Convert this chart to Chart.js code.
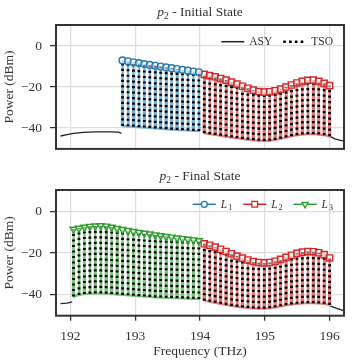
<!DOCTYPE html>
<html>
<head>
<meta charset="utf-8">
<script src="https://cdn.jsdelivr.net/npm/chart.js@4.4.1/dist/chart.umd.min.js"></script>
<style>
  body { margin: 0; background: #fff; }
  canvas { display: block; }
</style>
</head>
<body>
<canvas id="initialChart" width="362" height="165"></canvas>
<canvas id="finalChart" width="362" height="195"></canvas>
<script>
// channel centre frequencies (THz)
const freqL3 = [192.050, 192.134, 192.218, 192.302, 192.386, 192.470, 192.554, 192.638,
                192.722, 192.806, 192.890, 192.974, 193.058, 193.142, 193.226, 193.310,
                193.394, 193.478, 193.562, 193.646, 193.730, 193.814, 193.898, 193.982];
const freqL1 = [192.806, 192.890, 192.974, 193.058, 193.142, 193.226, 193.310, 193.394,
                193.478, 193.562, 193.646, 193.730, 193.814, 193.898, 193.982];
const freqL2 = [194.066, 194.150, 194.234, 194.318, 194.402, 194.486, 194.570, 194.654,
                194.738, 194.822, 194.906, 194.990, 195.074, 195.158, 195.242, 195.326,
                195.410, 195.494, 195.578, 195.662, 195.746, 195.830, 195.914, 195.998];

// p2 - initial state (dBm)
const initL1Peak = [-7.0, -7.4, -7.9, -8.3, -8.8, -9.2, -9.6, -10.0, -10.4, -10.8, -11.2, -11.6, -12.0, -12.4, -12.8];
const initL1Low  = [-39.0, -39.2, -39.4, -39.6, -39.8, -40.0, -40.2, -40.4, -40.6, -40.8, -41.0, -41.1, -41.2, -41.4, -41.5];
const initL2Peak = [-13.8, -14.4, -15.0, -15.8, -16.6, -17.6, -18.6, -19.6, -20.6, -21.5, -22.2, -22.5,
                    -22.3, -21.8, -21.0, -20.0, -19.0, -18.0, -17.2, -16.7, -16.6, -17.2, -18.2, -19.3];
const initL2Low  = [-42.5, -43.0, -43.4, -43.8, -44.2, -44.6, -45.0, -45.4, -45.7, -46.0, -46.2, -46.3,
                    -46.2, -45.8, -45.2, -44.6, -44.0, -43.5, -43.2, -43.0, -43.0, -43.2, -43.5, -44.0];
const initEdgeFreqL = [191.85, 191.95, 192.05, 192.2, 192.4, 192.6, 192.74, 192.79];
const initEdgeL     = [-43.9, -43.2, -42.6, -42.1, -41.9, -41.9, -42.0, -42.6];
const initEdgeFreqR = [196.01, 196.08, 196.15, 196.25];
const initEdgeR     = [-44.2, -45.3, -45.9, -46.6];

// p2 - final state (dBm)
const finL3Peak = [-8.6, -8.1, -7.6, -7.2, -7.0, -6.9, -7.1, -7.6, -8.2, -8.7, -9.2, -9.7,
                   -10.1, -10.5, -10.9, -11.3, -11.7, -12.1, -12.4, -12.8, -13.1, -13.4, -13.7, -14.1];
const finL3Low  = [-41.0, -40.2, -39.8, -39.6, -39.5, -39.5, -39.6, -39.8, -40.0, -40.2, -40.4, -40.6,
                   -40.8, -41.0, -41.2, -41.4, -41.5, -41.6, -41.7, -41.8, -41.9, -42.0, -42.1, -42.2];
const finL2Peak = [-15.6, -16.3, -17.2, -18.2, -19.3, -20.4, -21.5, -22.5, -23.4, -24.1, -24.6, -24.8,
                   -24.6, -24.0, -23.1, -22.1, -21.1, -20.2, -19.6, -19.3, -19.4, -19.9, -20.8, -22.4];
const finL2Low  = [-43.0, -43.5, -44.0, -44.5, -45.0, -45.5, -45.9, -46.2, -46.5, -46.7, -46.8, -46.8,
                   -46.6, -46.2, -45.7, -45.2, -44.8, -44.5, -44.3, -44.2, -44.2, -44.3, -44.5, -45.0];
const finEdgeFreqL = [191.85, 191.95, 192.03];
const finEdgeL     = [-44.4, -44.1, -43.6];
const finEdgeFreqR = [196.01, 196.10, 196.18, 196.25];
const finEdgeR     = [-45.6, -46.6, -47.4, -48.2];

const xTicks = [192, 193, 194, 195, 196];
const yTicks = [-40, -20, 0];

const FONT = '"Liberation Serif", "Times New Roman", serif';
const TEXT = '#333';
const HALF = 0.011; // half width of a channel spike (THz)

const BLUE = { line: '#79afd4', mark: '#1f77b4' };
const RED = { line: '#e67a7a', mark: '#d62728' };
const GREEN = { line: '#7cc47c', mark: '#2ca02c' };

function spikes(freqs, peaks, lows) {
    const pts = [];
    freqs.forEach((f, i) => {
        pts.push({ x: f - HALF, y: lows[i] }, { x: f, y: peaks[i] }, { x: f + HALF, y: lows[i] });
    });
    return pts;
}

// one dotted stroke per channel, broken between channels
function strokes(freqs, peaks, lows) {
    const pts = [];
    freqs.forEach((f, i) => {
        pts.push({ x: f, y: lows[i] }, { x: f, y: peaks[i] }, { x: f, y: null });
    });
    return pts;
}

function pairs(xs, ys) {
    return xs.map((x, i) => ({ x: x, y: ys[i] }));
}

function colourSet(freqs, peaks, lows, c) {
    return {
        data: spikes(freqs, peaks, lows),
        borderColor: c.line,
        borderWidth: 2.1,
        pointRadius: 0,
        order: 2
    };
}

function markerSet(freqs, peaks, c, style, radius, rotation) {
    return {
        data: pairs(freqs, peaks),
        showLine: false,
        pointStyle: style,
        pointRadius: radius,
        pointRotation: rotation || 0,
        pointBorderColor: c.mark,
        pointBackgroundColor: 'rgba(255,255,255,0.45)',
        pointBorderWidth: 1.4,
        order: 0
    };
}

function tsoSet(data) {
    return {
        data: data,
        spanGaps: false,
        borderColor: '#000',
        borderWidth: 2.8,
        borderDash: [2.2, 3.3],
        pointRadius: 0,
        order: 1
    };
}

function edgeSet(xs, ys) {
    return {
        data: pairs(xs, ys),
        borderColor: '#222',
        borderWidth: 1.3,
        pointRadius: 0,
        order: 3
    };
}

function minusLabel(v) {
    return v < 0 ? '\u2212' + Math.abs(v) : String(v);
}

function drawTitle(ctx, area, y, rest) {
    ctx.save();
    ctx.fillStyle = TEXT;
    ctx.textBaseline = 'alphabetic';
    ctx.textAlign = 'left';
    const fIt = 'italic 13.5px ' + FONT, fSub = '9.5px ' + FONT, fReg = '13.5px ' + FONT;
    ctx.font = fIt; const w1 = ctx.measureText('p').width;
    ctx.font = fSub; const w2 = ctx.measureText('2').width;
    ctx.font = fReg; const w3 = ctx.measureText(rest).width;
    let x = (area.left + area.right) / 2 - (w1 + w2 + w3) / 2;
    ctx.font = fIt; ctx.fillText('p', x, y); x += w1;
    ctx.font = fSub; ctx.fillText('2', x, y + 2.5); x += w2;
    ctx.font = fReg; ctx.fillText(rest, x, y);
    ctx.restore();
}

function drawSample(ctx, item, x0, x1, y) {
    ctx.save();
    if (item.kind === 'solid') {
        ctx.strokeStyle = '#222';
        ctx.lineWidth = 1.5;
    } else if (item.kind === 'dots') {
        ctx.strokeStyle = '#000';
        ctx.lineWidth = 2.6;
        ctx.setLineDash([2.6, 3.2]);
    } else {
        ctx.strokeStyle = item.c.mark;
        ctx.lineWidth = 1.5;
    }
    ctx.beginPath();
    ctx.moveTo(x0, y);
    ctx.lineTo(x1, y);
    ctx.stroke();
    if (item.kind === 'marker') {
        ctx.setLineDash([]);
        ctx.fillStyle = '#fff';
        ctx.strokeStyle = item.c.mark;
        ctx.lineWidth = 1.3;
        Chart.helpers.drawPoint(ctx, { pointStyle: item.style, radius: item.r, rotation: item.rot || 0, borderWidth: 1.3 }, (x0 + x1) / 2, y);
    }
    ctx.restore();
}

function drawLegend(ctx, area, dy, items) {
    const sample = 23, gapText = 5, gapItem = 11;
    const fMain = (items[0].sub ? 'italic ' : '') + '11.5px ' + FONT;
    const fSub = '8px ' + FONT;
    ctx.save();
    const widths = items.map(it => {
        ctx.font = fMain;
        let w = ctx.measureText(it.label).width;
        if (it.sub) { ctx.font = fSub; w += ctx.measureText(it.sub).width + 1; }
        return w;
    });
    let total = 0;
    widths.forEach((w, i) => { total += sample + gapText + w + (i > 0 ? gapItem : 0); });
    let x = area.right - 11 - total;
    const y = area.top + dy;
    items.forEach((it, i) => {
        drawSample(ctx, it, x, x + sample, y);
        x += sample + gapText;
        ctx.fillStyle = TEXT;
        ctx.textBaseline = 'middle';
        ctx.font = fMain;
        ctx.fillText(it.label, x, y + 0.5);
        if (it.sub) {
            const lw = ctx.measureText(it.label).width + 1;
            ctx.font = fSub;
            ctx.fillText(it.sub, x + lw, y + 3.5);
        }
        x += widths[i] + gapItem;
    });
    ctx.restore();
}

const panelDecor = {
    id: 'panelDecor',
    afterDraw(chart, args, opts) {
        const { ctx, chartArea: a } = chart;
        ctx.save();
        ctx.strokeStyle = '#333';
        ctx.lineWidth = 2;
        ctx.strokeRect(a.left, a.top, a.right - a.left, a.bottom - a.top);
        ctx.restore();
        drawTitle(ctx, a, opts.titleY, opts.title);
        drawLegend(ctx, a, opts.legendY, opts.items);
    }
};

function makeOptions(showX, decor) {
    return {
        responsive: false,
        animation: false,
        devicePixelRatio: 1,
        events: [],
        layout: { padding: { left: 0, right: 18, top: 25, bottom: showX ? 0 : 14 } },
        plugins: { legend: { display: false }, tooltip: { enabled: false }, panelDecor: decor },
        scales: {
            x: {
                type: 'linear',
                min: 191.78,
                max: 196.22,
                afterBuildTicks: s => { s.ticks = xTicks.map(v => ({ value: v })); },
                afterFit: s => { s.height = showX ? 44.3 : 0; },
                grid: { color: '#dddddd', lineWidth: 1.2, drawTicks: showX, tickLength: 5, tickColor: '#333', tickWidth: 1.3 },
                border: { display: false },
                ticks: { display: showX, color: TEXT, padding: 8, font: { family: FONT, size: 13.5 } },
                title: { display: showX, text: 'Frequency (THz)', color: TEXT, padding: { top: 0, bottom: 0 }, font: { family: FONT, size: 13.5 } }
            },
            y: {
                min: -50.2,
                max: 10.3,
                afterBuildTicks: s => { s.ticks = yTicks.map(v => ({ value: v })); },
                afterFit: s => { s.width = 56; },
                grid: { color: '#dddddd', lineWidth: 1.2, tickLength: 6, tickColor: '#333', tickWidth: 1.3 },
                border: { display: false },
                ticks: { color: TEXT, padding: 8, callback: minusLabel, font: { family: FONT, size: 13.5 } },
                title: { display: true, text: 'Power (dBm)', color: TEXT, padding: { top: 1, bottom: 0 }, font: { family: FONT, size: 13.5 } }
            }
        }
    };
}

new Chart(document.getElementById('initialChart'), {
    type: 'line',
    data: {
        datasets: [
            markerSet(freqL1, initL1Peak, BLUE, 'circle', 3.4),
            markerSet(freqL2, initL2Peak, RED, 'rect', 4.4),
            tsoSet(strokes(freqL1, initL1Peak, initL1Low).concat(strokes(freqL2, initL2Peak, initL2Low))),
            colourSet(freqL1, initL1Peak, initL1Low, BLUE),
            colourSet(freqL2, initL2Peak, initL2Low, RED),
            edgeSet(initEdgeFreqL, initEdgeL),
            edgeSet(initEdgeFreqR, initEdgeR)
        ]
    },
    options: makeOptions(false, {
        titleY: 16,
        title: ' - Initial State',
        legendY: 16.7,
        items: [{ label: 'ASY', kind: 'solid' }, { label: 'TSO', kind: 'dots' }]
    }),
    plugins: [panelDecor]
});

new Chart(document.getElementById('finalChart'), {
    type: 'line',
    data: {
        datasets: [
            markerSet(freqL3, finL3Peak, GREEN, 'triangle', 4, 180),
            markerSet(freqL2, finL2Peak, RED, 'rect', 4.4),
            tsoSet(strokes(freqL3, finL3Peak, finL3Low).concat(strokes(freqL2, finL2Peak, finL2Low))),
            colourSet(freqL3, finL3Peak, finL3Low, GREEN),
            colourSet(freqL2, finL2Peak, finL2Low, RED),
            edgeSet(finEdgeFreqL, finEdgeL),
            edgeSet(finEdgeFreqR, finEdgeR)
        ]
    },
    options: makeOptions(true, {
        titleY: 15.4,
        title: ' - Final State',
        legendY: 14.3,
        items: [
            { label: 'L', sub: '1', kind: 'marker', c: BLUE, style: 'circle', r: 3 },
            { label: 'L', sub: '2', kind: 'marker', c: RED, style: 'rect', r: 4 },
            { label: 'L', sub: '3', kind: 'marker', c: GREEN, style: 'triangle', r: 3.6, rot: 180 }
        ]
    }),
    plugins: [panelDecor]
});
</script>
</body>
</html>
